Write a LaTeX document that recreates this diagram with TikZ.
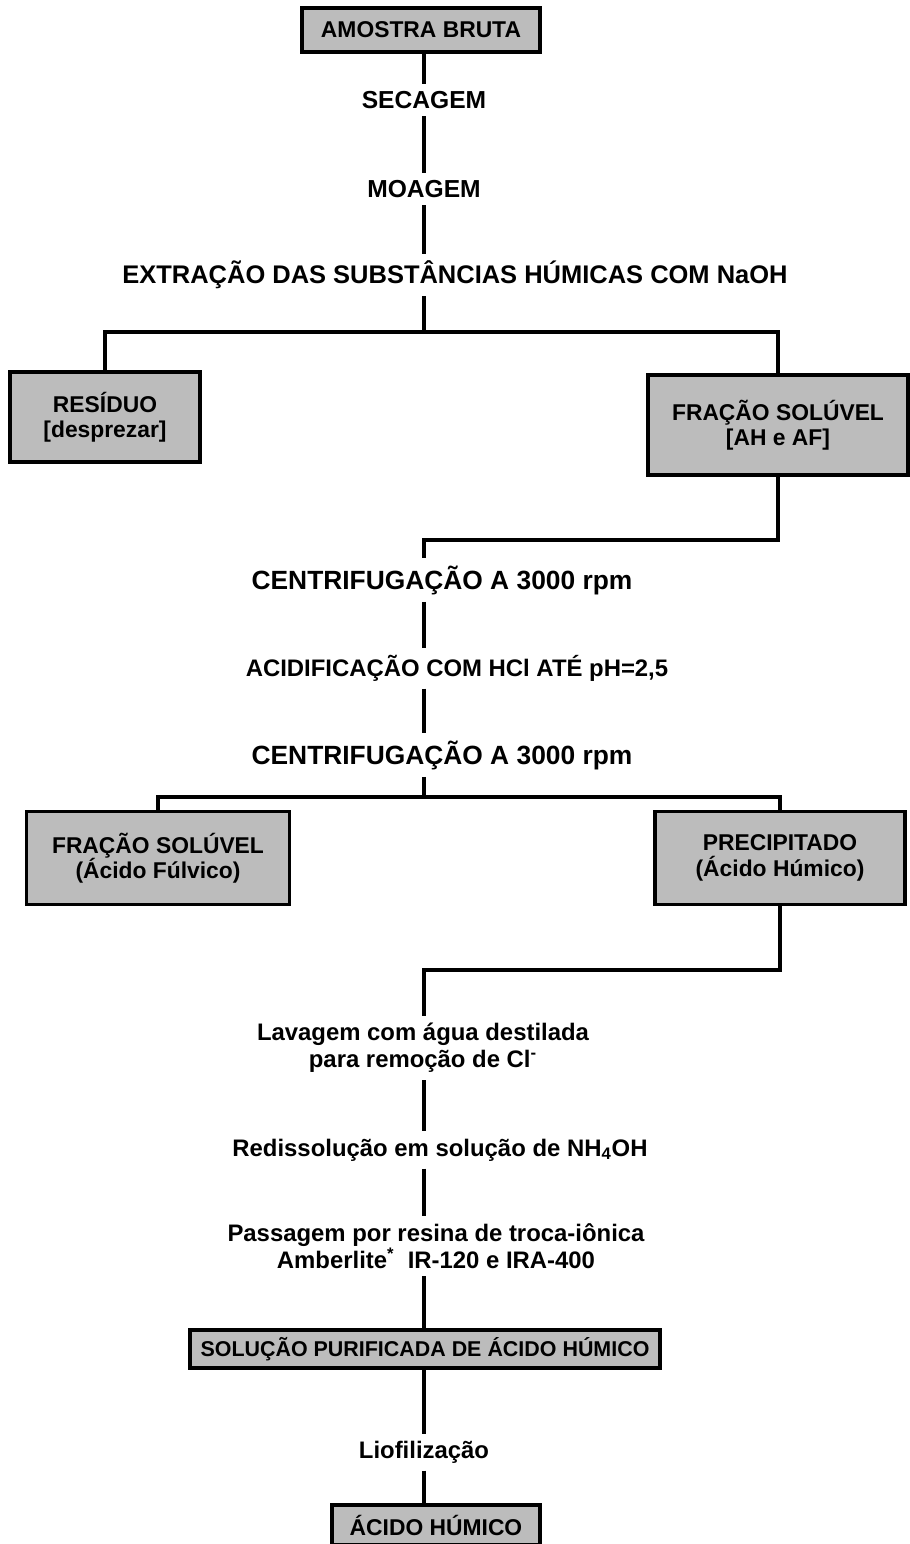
\documentclass[tikz,border=0pt]{standalone}
\usepackage{fontspec}
\setmainfont{Liberation Sans}
\definecolor{boxgray}{RGB}{188,188,188}

\begin{document}
\begin{tikzpicture}[x=0.02cm,y=-0.02cm,
    stagebox/.style={draw,line width=2pt,fill=boxgray,align=center,inner sep=2pt,
      font=\bfseries\fontsize{13}{14.5}\selectfont},
    steplabel/.style={fill=white,align=center,inner sep=4pt,
      font=\bfseries\fontsize{14}{15.5}\selectfont},
    link/.style={line width=1.8pt}]
    \useasboundingbox (0,0) rectangle (909,1544);

    % main line
    \coordinate (spine) at (424,0);
    \node[stagebox,minimum width=4.76cm,minimum height=0.88cm] (amostra) at (421,30) {AMOSTRA BRUTA};
    \node[steplabel] (secagem) at (424,100) {SECAGEM};
    \node[steplabel] (moagem) at (424,189) {MOAGEM};
    \node[steplabel,font=\bfseries\fontsize{14.5}{16}\selectfont] (extracao) at (455,275) {EXTRAÇÃO DAS SUBSTÂNCIAS HÚMICAS COM NaOH};

    % first split
    \coordinate (split1) at (424,332);
    \node[stagebox,minimum width=3.8cm,minimum height=1.8cm] (residuo) at (105,417) {RESÍDUO\\{[desprezar]}};
    \node[stagebox,minimum width=5.2cm,minimum height=2cm] (soluvel) at (778,425) {FRAÇÃO SOLÚVEL\\{[AH e AF]}};
    \coordinate (join1) at (424,540);

    \node[steplabel,font=\bfseries\fontsize{15}{16}\selectfont] (centrif1) at (442,580) {CENTRIFUGAÇÃO A 3000 rpm};
    \node[steplabel,font=\bfseries\fontsize{13.6}{16}\selectfont] (acid) at (457,668) {ACIDIFICAÇÃO COM HCl ATÉ pH=2,5};
    \node[steplabel,font=\bfseries\fontsize{15}{16}\selectfont] (centrif2) at (442,755) {CENTRIFUGAÇÃO A 3000 rpm};

    % second split
    \coordinate (split2) at (424,797);
    \node[stagebox,minimum width=5.26cm,minimum height=1.86cm] (fulvico) at (158,858) {FRAÇÃO SOLÚVEL\\(Ácido Fúlvico)};
    \node[stagebox,minimum width=5cm,minimum height=1.86cm] (precip) at (780,858) {PRECIPITADO\\(Ácido Húmico)};
    \coordinate (join2) at (424,970);

    \node[steplabel,font=\bfseries\fontsize{13.6}{15.5}\selectfont] (lavagem) at (423,1048) {Lavagem com água destilada\\para remoção de Cl\textsuperscript{-}};
    \node[steplabel,font=\bfseries\fontsize{13.6}{15.5}\selectfont] (redis) at (440,1150) {Redissolução em solução de NH\textsubscript{4}OH};
    \node[steplabel,font=\bfseries\fontsize{13.6}{15.5}\selectfont] (passagem) at (436,1246) {Passagem por resina de troca-iônica\\Amberlite\textsuperscript{*}\ \ IR-120 e IRA-400};
    \node[stagebox,minimum width=9.4cm,minimum height=0.76cm,font=\bfseries\fontsize{12.2}{14}\selectfont] (solucao) at (425,1349) {SOLUÇÃO PURIFICADA DE ÁCIDO HÚMICO};
    \node[steplabel,font=\bfseries\fontsize{13.6}{15.5}\selectfont] (liof) at (424,1452) {Liofilização};
    \node[stagebox,minimum width=4.16cm,minimum height=0.8cm] (acido) at (436,1525) {ÁCIDO HÚMICO};

    \draw[link] (amostra.south -| spine) -- (secagem.north -| spine);
    \draw[link] (secagem.south -| spine) -- (moagem.north -| spine);
    \draw[link] (moagem.south -| spine) -- (extracao.north -| spine);
    \draw[link] (extracao.south -| spine) -- (split1);
    \draw[link] (residuo.north) |- (split1) -| (soluvel.north);
    \draw[link] (soluvel.south) |- (join1) -- (centrif1.north -| spine);
    \draw[link] (centrif1.south -| spine) -- (acid.north -| spine);
    \draw[link] (acid.south -| spine) -- (centrif2.north -| spine);
    \draw[link] (centrif2.south -| spine) -- (split2);
    \draw[link] (fulvico.north) |- (split2) -| (precip.north);
    \draw[link] (precip.south) |- (join2) -- (lavagem.north -| spine);
    \draw[link] (lavagem.south -| spine) -- (redis.north -| spine);
    \draw[link] (redis.south -| spine) -- (passagem.north -| spine);
    \draw[link] (passagem.south -| spine) -- (solucao.north -| spine);
    \draw[link] (solucao.south -| spine) -- (liof.north -| spine);
    \draw[link] (liof.south -| spine) -- (acido.north -| spine);
\end{tikzpicture}
\end{document}
